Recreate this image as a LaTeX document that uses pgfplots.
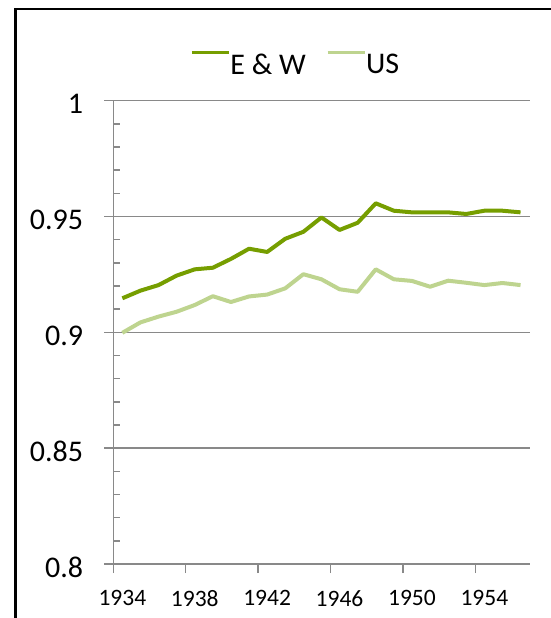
\documentclass[border=0pt]{standalone}
\usepackage{fontspec}
\setmainfont{Carlito}
\usepackage{pgfplots}
\pgfplotsset{compat=1.18}
\definecolor{ew}{RGB}{118,158,0}
\definecolor{us}{RGB}{190,212,143}
\definecolor{gridc}{RGB}{137,137,137}
\begin{document}
\begin{tikzpicture}
\useasboundingbox (-113.3pt,-54pt) rectangle (436.7pt,564pt);
\draw[line width=2.7pt] (-97.6pt,-70pt) -- (-97.6pt,555pt) -- (450pt,555pt);
\begin{axis}[
 at={(0pt,0pt)}, anchor=south west, scale only axis,
 width=416.3pt, height=463.3pt,
 xmin=1933.5, xmax=1956.5, ymin=0.8, ymax=1,
 axis x line*=bottom, axis y line*=left,
 axis line style={draw=gridc, line width=1.5pt, -},
 xtick={1933.5,1937.5,1941.5,1945.5,1949.5,1953.5},
 xticklabels={1934,1938,1942,1946,1950,1954},
 xticklabel style={font=\fontsize{23.5}{23.5}\selectfont, inner sep=0pt, xshift=9.05pt, yshift=-17pt, anchor=north},
 ytick={0.8,0.85,0.9,0.95,1},
 yticklabels={0.8,0.85,0.9,0.95,1},
 yticklabel style={font=\fontsize{30}{30}\selectfont, inner sep=0pt, xshift=-21pt, yshift=-3.5pt, anchor=east},
 minor y tick num=4,
 tick align=outside,
 major tick length=9pt, minor tick length=7pt,
 tick style={draw=gridc, line width=1.5pt},
 minor tick style={xshift=7pt},
 ymajorgrids, grid style={draw=gridc, line width=1.5pt},
 legend columns=2,
 legend style={at={(0.177,1.0803)}, anchor=west, draw=none, fill=none,
   font=\fontsize{30}{30}\selectfont, nodes={inner sep=0pt},
   /tikz/every odd column/.append style={column sep=0pt},
   /tikz/every even column/.append style={column sep=20pt}},
 legend image code/.code={\draw[#1, line width=3.3pt] (0pt,12pt) -- (37pt,12pt);},
]
\addplot[ew, line width=4pt, line join=round] coordinates {
(1934,0.9147) (1935,0.9180) (1936,0.9204) (1937,0.9245) (1938,0.9272)
(1939,0.9279) (1940,0.9317) (1941,0.9361) (1942,0.9347) (1943,0.9404)
(1944,0.9434) (1945,0.9496) (1946,0.9442) (1947,0.9473) (1948,0.9557)
(1949,0.9525) (1950,0.9518) (1951,0.9518) (1952,0.9518) (1953,0.9511)
(1954,0.9525) (1955,0.9525) (1956,0.9518)};
\addlegendentry{E \& W}
\addplot[us, line width=4pt, line join=round] coordinates {
(1934,0.8998) (1935,0.9043) (1936,0.9068) (1937,0.9089) (1938,0.9118)
(1939,0.9156) (1940,0.9131) (1941,0.9155) (1942,0.9163) (1943,0.9190)
(1944,0.9251) (1945,0.9229) (1946,0.9186) (1947,0.9175) (1948,0.9272)
(1949,0.9229) (1950,0.9222) (1951,0.9197) (1952,0.9223) (1953,0.9214)
(1954,0.9204) (1955,0.9213) (1956,0.9204)};
\addlegendentry{US}
\end{axis}
\end{tikzpicture}
\end{document}
